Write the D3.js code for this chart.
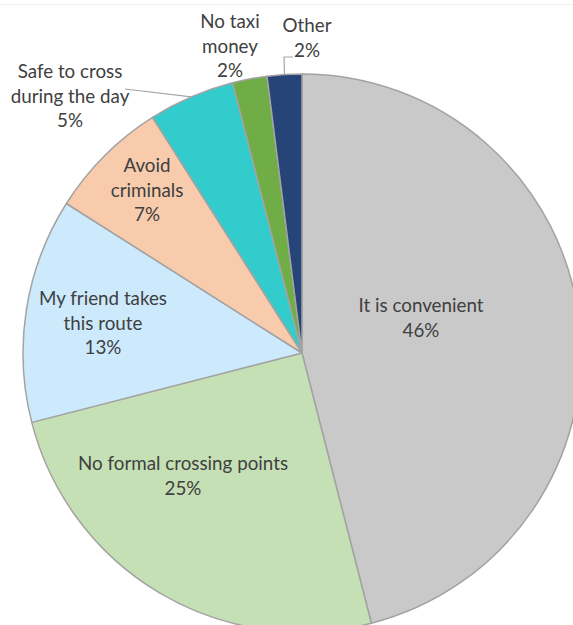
<!DOCTYPE html>
<html>
<head>
<meta charset="utf-8">
<script src="https://cdn.jsdelivr.net/npm/d3@7"></script>
<style>
  html, body { margin: 0; padding: 0; background: #ffffff; }
  svg { display: block; }
</style>
</head>
<body>
<svg id="chart" width="573" height="625"></svg>
<script>
// Reasons given for using the informal crossing route (percent of respondents)
const categories = [
  "It is convenient",
  "No formal crossing points",
  "My friend takes this route",
  "Avoid criminals",
  "Safe to cross during the day",
  "No taxi money",
  "Other"
];
const values = [46, 25, 13, 7, 5, 2, 2];

// Label text broken into lines, one entry per category
const labelLines = [
  ["It is convenient"],
  ["No formal crossing points"],
  ["My friend takes", "this route"],
  ["Avoid", "criminals"],
  ["Safe to cross", "during the day"],
  ["No taxi", "money"],
  ["Other"]
];

const sliceColors = ["#c9c9c9", "#c5e0b4", "#cdeafd", "#f8cbad", "#33cccc", "#70ad47", "#264478"];

// Label block centres, relative to the pie centre
const labelOffsets = [
  [119, -35], [-119, 123], [-199, -30], [-155, -163],
  [-232, -257], [-72, -307], [5, -315]
];

const width = 573, height = 625;
const cx = 302, cy = 353, radius = 279;
const lineGap = 24.5;

const svg = d3.select("#chart");

// faint frame edge along the top
svg.append("line")
  .attr("x1", 0).attr("x2", width)
  .attr("y1", 4.5).attr("y2", 4.5)
  .attr("stroke", "#ededed").attr("stroke-width", 1);

const data = categories.map((c, i) => ({ name: c, value: values[i], i }));

const pie = d3.pie().sort(null).value(d => d.value).startAngle(0).endAngle(2 * Math.PI);
const arcs = pie(data);
const arc = d3.arc().innerRadius(0).outerRadius(radius);
const color = d3.scaleOrdinal().domain(categories).range(sliceColors);

const g = svg.append("g").attr("transform", `translate(${cx},${cy})`);

g.selectAll("path.slice")
  .data(arcs)
  .join("path")
  .attr("class", "slice")
  .attr("d", arc)
  .attr("fill", d => color(d.data.name))
  .attr("stroke", "#a3a3a3")
  .attr("stroke-width", 1.5)
  .attr("stroke-linejoin", "round");

// point on the rim at a slice's middle angle
function rimPoint(a) {
  const m = (a.startAngle + a.endAngle) / 2;
  return [Math.sin(m) * radius, -Math.cos(m) * radius];
}

// leader lines for the two labels placed outside the pie
const safe = arcs[4], other = arcs[6];
const ps = rimPoint(safe);
g.append("path")
  .attr("d", d3.line()([[-177, -264], ps]))
  .attr("fill", "none").attr("stroke", "#a6a6a6").attr("stroke-width", 1.2);
const po = rimPoint(other);
g.append("path")
  .attr("d", d3.line()([po, [-18, -296], [-9, -296]]))
  .attr("fill", "none").attr("stroke", "#a6a6a6").attr("stroke-width", 1.2);

const fmt = d3.format(".0%");

const labels = g.selectAll("text.lbl")
  .data(arcs)
  .join("text")
  .attr("class", "lbl")
  .attr("text-anchor", "middle")
  .attr("font-family", "Lato, 'Open Sans', sans-serif")
  .attr("font-size", 18.8)
  .attr("fill", "#404040");

labels.each(function(d, i) {
  const lines = labelLines[i].concat([fmt(d.data.value / 100)]);
  const [ox, oy] = labelOffsets[i];
  const top = oy - (lines.length - 1) * lineGap / 2;
  const t = d3.select(this);
  lines.forEach((s, k) => {
    t.append("tspan")
      .attr("x", ox)
      .attr("y", top + k * lineGap)
      .attr("dy", "0.35em")
      .text(s);
  });
});
</script>
</body>
</html>
